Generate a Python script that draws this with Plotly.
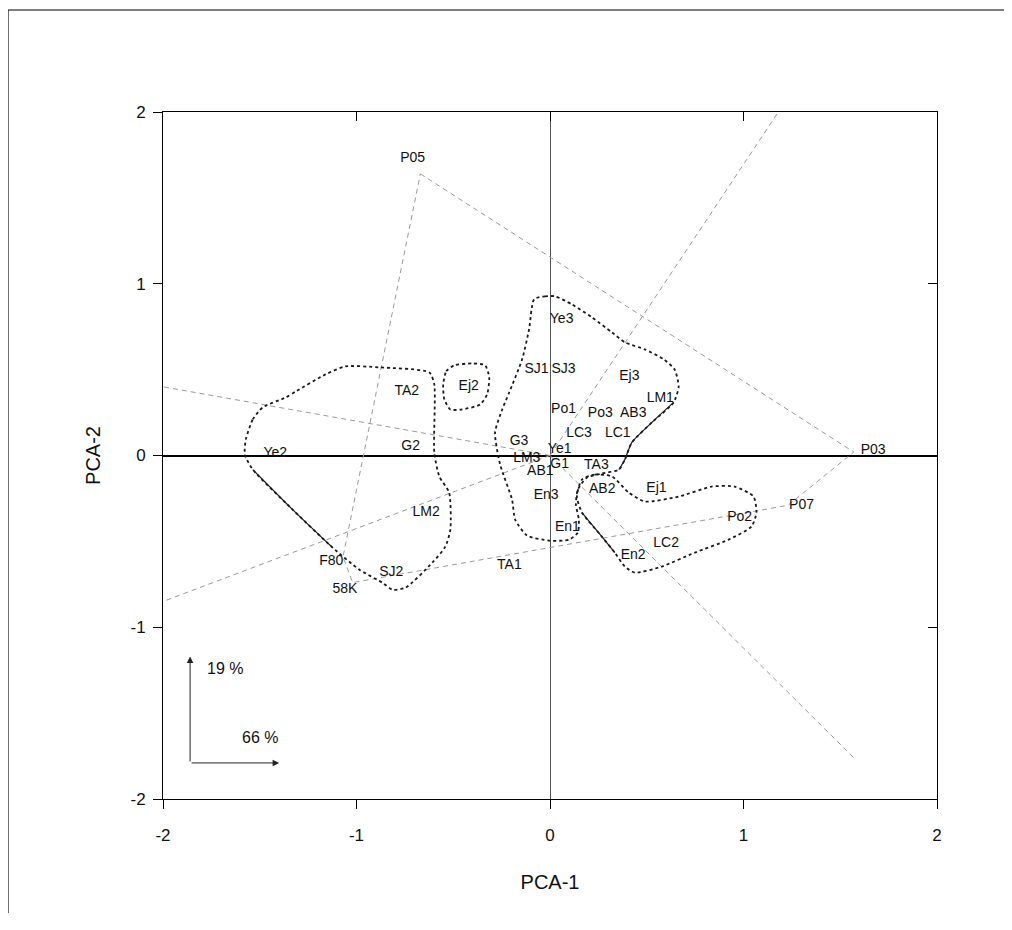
import plotly.graph_objects as go

# ---------------- data ----------------
sample_names = ["Ye2", "TA2", "G2", "LM2", "SJ2", "Ej2", "Ye3", "SJ1", "SJ3", "Ej3", "LM1",
                "Po1", "Po3", "AB3", "LC3", "LC1", "G3", "Ye1", "LM3", "G1", "AB1", "TA3",
                "AB2", "En3", "En1", "En2", "LC2", "Ej1", "Po2", "TA1"]
sample_pc1 = [-1.42, -0.74, -0.72, -0.64, -0.82, -0.42, 0.06, -0.07, 0.07, 0.41, 0.57,
              0.07, 0.26, 0.43, 0.15, 0.35, -0.16, 0.05, -0.12, 0.05, -0.05, 0.24,
              0.27, -0.02, 0.09, 0.43, 0.60, 0.55, 0.98, -0.21]
sample_pc2 = [0.01, 0.37, 0.05, -0.33, -0.68, 0.40, 0.79, 0.50, 0.50, 0.46, 0.33,
              0.27, 0.245, 0.245, 0.13, 0.13, 0.08, 0.035, -0.02, -0.05, -0.095, -0.06,
              -0.20, -0.23, -0.42, -0.58, -0.51, -0.19, -0.36, -0.64]

# reference materials (hull vertices and their labels)
ref_names = ["P05", "P03", "P07", "58K", "F80"]
ref_pc1 = [-0.67, 1.57, 1.23, -1.02, -1.07]
ref_pc2 = [1.64, 0.02, -0.29, -0.74, -0.59]
ref_label_pc1 = [-0.71, 1.67, 1.30, -1.06, -1.13]
ref_label_pc2 = [1.73, 0.03, -0.29, -0.78, -0.62]

# loading vectors (from origin)
vec_pc1 = [-2.0, -2.0, 1.18, 1.57]
vec_pc2 = [0.40, -0.85, 2.0, -1.76]

# group outlines
left_x = [-1.572, -1.536, -1.485, -1.366, -1.314, -1.160, -1.057, -0.881, -0.624, -0.598, -0.598,
          -0.572, -0.521, -0.515, -0.541, -0.608, -0.747, -0.814, -0.866, -0.985, -1.124, -1.330,
          -1.536, -1.577, -1.572]
left_y = [0.093, 0.210, 0.280, 0.338, 0.373, 0.472, 0.519, 0.513, 0.484, 0.414, 0.017,
          -0.122, -0.216, -0.431, -0.531, -0.624, -0.770, -0.781, -0.741, -0.665, -0.536, -0.315,
          -0.082, 0.006, 0.093]
ej2_x = [-0.552, -0.536, -0.495, -0.402, -0.335, -0.314, -0.325, -0.361, -0.454, -0.515, -0.546, -0.552]
ej2_y = [0.414, 0.490, 0.525, 0.536, 0.525, 0.455, 0.356, 0.297, 0.268, 0.268, 0.327, 0.414]
mid_x = [-0.082, -0.026, 0.026, 0.113, 0.216, 0.320, 0.387, 0.490, 0.588, 0.644, 0.665, 0.639,
         0.526, 0.423, 0.387, 0.356, 0.268, 0.191, 0.144, 0.134, 0.149, 0.144, 0.098, 0.0,
         -0.119, -0.180, -0.196, -0.258, -0.284, -0.247, -0.211, -0.144, -0.108, -0.082]
mid_y = [0.910, 0.927, 0.927, 0.880, 0.805, 0.717, 0.659, 0.618, 0.560, 0.501, 0.402, 0.309,
         0.192, 0.076, -0.023, -0.082, -0.105, -0.128, -0.198, -0.286, -0.373, -0.449, -0.490, -0.496,
         -0.466, -0.373, -0.257, -0.052, 0.134, 0.268, 0.367, 0.560, 0.735, 0.910]
right_x = [0.165, 0.232, 0.320, 0.407, 0.490, 0.665, 0.835, 0.954, 1.052, 1.067, 1.041, 0.923,
           0.747, 0.577, 0.438, 0.387, 0.335, 0.268, 0.165, 0.139, 0.165]
right_y = [-0.140, -0.111, -0.122, -0.216, -0.268, -0.239, -0.181, -0.181, -0.239, -0.332, -0.414, -0.490,
           -0.566, -0.647, -0.682, -0.647, -0.566, -0.472, -0.332, -0.239, -0.140]

tick_vals = [-2, -1, 0, 1, 2]
tick_text = ["-2", "-1", "0", "1", "2"]
pct_pc1 = "66 %"
pct_pc2 = "19 %"

FONT = "Liberation Sans, Arial, sans-serif"
GUIDE = dict(color="#9a9a9a", width=1, dash="5px,4px")

fig = go.Figure()

# loading vectors
for vx, vy in zip(vec_pc1, vec_pc2):
    fig.add_trace(go.Scatter(x=[0, vx], y=[0, vy], mode="lines", line=GUIDE,
                             hoverinfo="skip", showlegend=False))

# reference hull
hull_order = [0, 1, 2, 3, 4, 0]
fig.add_trace(go.Scatter(x=[ref_pc1[i] for i in hull_order], y=[ref_pc2[i] for i in hull_order],
                         mode="lines", line=GUIDE, hoverinfo="skip", showlegend=False))

# group outlines (dotted)
for gx, gy in [(left_x, left_y), (ej2_x, ej2_y), (mid_x, mid_y), (right_x, right_y)]:
    fig.add_trace(go.Scatter(x=gx, y=gy, mode="lines",
                             line=dict(color="#1a1a1a", width=1.8, dash="dot", shape="spline", smoothing=0.6),
                             hoverinfo="skip", showlegend=False))

# solid parts of the outlines
for gx, gy, a, b in [(left_x, left_y, 20, 23), (mid_x, mid_y, 11, 16), (right_x, right_y, 16, 19)]:
    fig.add_trace(go.Scatter(x=gx[a:b], y=gy[a:b], mode="lines",
                             line=dict(color="#1a1a1a", width=1.2, shape="spline", smoothing=0.6),
                             hoverinfo="skip", showlegend=False))

# labels
fig.add_trace(go.Scatter(x=sample_pc1, y=sample_pc2, mode="text", text=sample_names,
                         textfont=dict(family=FONT, size=14, color="#111"),
                         hoverinfo="skip", showlegend=False))
fig.add_trace(go.Scatter(x=ref_label_pc1, y=ref_label_pc2, mode="text", text=ref_names,
                         textfont=dict(family=FONT, size=14, color="#111"),
                         hoverinfo="skip", showlegend=False))

# invisible trace for mirror axes
fig.add_trace(go.Scatter(x=[0], y=[0], xaxis="x2", yaxis="y2", mode="markers",
                         marker=dict(opacity=0), hoverinfo="skip", showlegend=False))

# variance arrows
fig.add_annotation(x=-1.86, y=-1.17, ax=-1.86, ay=-1.79, xref="x", yref="y", axref="x", ayref="y",
                   text="", showarrow=True, arrowhead=2, arrowsize=1.3, arrowwidth=1, arrowcolor="#222")
fig.add_annotation(x=-1.40, y=-1.79, ax=-1.86, ay=-1.79, xref="x", yref="y", axref="x", ayref="y",
                   text="", showarrow=True, arrowhead=2, arrowsize=1.3, arrowwidth=1, arrowcolor="#222")
fig.add_annotation(x=-1.68, y=-1.24, text=pct_pc2, showarrow=False,
                   font=dict(family=FONT, size=16, color="#111"))
fig.add_annotation(x=-1.50, y=-1.64, text=pct_pc1, showarrow=False,
                   font=dict(family=FONT, size=16, color="#111"))

axis_common = dict(range=[-2, 2], tickvals=tick_vals, ticktext=tick_text, showgrid=False,
                   showline=True, linecolor="black", linewidth=1, mirror=True,
                   ticks="outside", ticklen=9, tickcolor="black",
                   tickfont=dict(family=FONT, size=17, color="#111"))

fig.update_layout(
    width=1004, height=905,
    margin=dict(l=155, r=75, t=104, b=114),
    paper_bgcolor="white", plot_bgcolor="white",
    xaxis=dict(**axis_common, zeroline=True, zerolinecolor="#555", zerolinewidth=1,
               ticklabelstandoff=12,
               title=dict(text="PCA-1", font=dict(family=FONT, size=20, color="#111"), standoff=30)),
    yaxis=dict(**axis_common, zeroline=True, zerolinecolor="black", zerolinewidth=1.5,
               ticklabelstandoff=4,
               title=dict(text="PCA-2", font=dict(family=FONT, size=20, color="#111"), standoff=24)),
    xaxis2=dict(range=[-2, 2], tickvals=tick_vals, overlaying="x", side="top", ticks="inside",
                ticklen=9, tickcolor="black", showticklabels=False, showgrid=False, zeroline=False,
                showline=False),
    yaxis2=dict(range=[-2, 2], tickvals=tick_vals, overlaying="y", side="right", ticks="inside",
                ticklen=9, tickcolor="black", showticklabels=False, showgrid=False, zeroline=False,
                showline=False),
    shapes=[
        dict(type="line", xref="paper", yref="paper", x0=-0.2003, x1=1.3, y0=1.1485, y1=1.1485,
             line=dict(color="black", width=1.2), layer="below"),
        dict(type="line", xref="paper", yref="paper", x0=-0.2003, x1=-0.2003, y0=-0.3, y1=1.1485,
             line=dict(color="black", width=1.2), layer="below"),
    ],
    font=dict(family=FONT),
)

fig.write_html("out.html")
